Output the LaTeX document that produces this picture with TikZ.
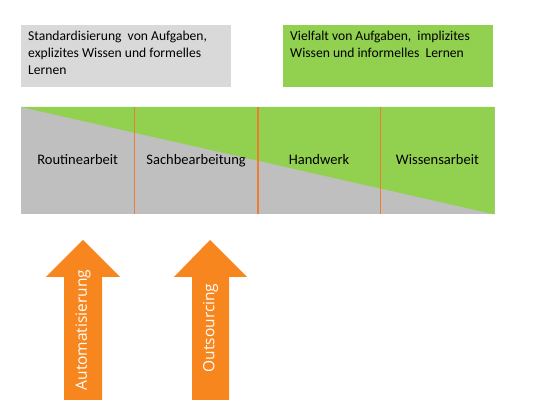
\documentclass[tikz,border=0pt]{standalone}
\usepackage{fontspec}
\setmainfont{Carlito}
\newfontfamily\arrowfont{Open Sans}
\usetikzlibrary{positioning,backgrounds}
\definecolor{leafgreen}{HTML}{92D050}
\definecolor{lightgrey}{HTML}{D9D9D9}
\definecolor{midgrey}{HTML}{BFBFBF}
\definecolor{pumpkin}{HTML}{F7861E}
\definecolor{rust}{HTML}{ED7D31}
\tikzset{
  infobox/.style  = {rectangle, inner sep=0pt, minimum width=210pt, minimum height=62pt,
                     anchor=north west, font=\fontsize{13.6}{17}\selectfont},
  colbox/.style   = {rectangle, inner sep=0pt, minimum height=107pt,
                     text height=10pt, text depth=3pt,
                     font=\fontsize{14.5}{17}\selectfont},
  divider/.style  = {draw=rust, line width=1.4pt},
  pusharrow/.style= {fill=pumpkin},
  arrowlbl/.style = {rotate=90, text=white, inner sep=0pt,
                     font=\arrowfont\fontsize{15.5}{17}\selectfont},
}
\newcommand{\boxtext}[1]{\parbox[c][56pt][t]{198pt}{\vspace*{2.5pt}\raggedright #1}}

\begin{document}
\begin{tikzpicture}[x=1pt,y=-1pt]
  \useasboundingbox (0,0) rectangle (560,419);

  % top captions
  \node[infobox, fill=lightgrey] (std) at (21,25)
    {\hspace*{2pt}\boxtext{Standardisierung~ von Aufgaben, explizites Wissen und formelles Lernen}};
  \node[infobox, fill=leafgreen] (var) at (283,25)
    {\hspace*{2pt}\boxtext{Vielfalt von Aufgaben,~ implizites Wissen und informelles~ Lernen}};

  % the four kinds of work
  \node[colbox, minimum width=113pt, anchor=north west] (routine) at (21,107) {Routinearbeit};
  \node[colbox, minimum width=123pt, right=0pt of routine] (sach) {Sachbearbeitung};
  \node[colbox, minimum width=122pt, right=0pt of sach] (hand) {Handwerk};
  \node[colbox, minimum width=114pt, right=0pt of hand] (wissen) {Wissensarbeit};

  \begin{scope}[on background layer]
    \fill[midgrey] (routine.north west) rectangle (wissen.south east);
    \fill[leafgreen] (routine.north west) -- (wissen.north east) -- (wissen.south east) -- cycle;
  \end{scope}
  \draw[divider] (routine.north east) -- (routine.south east);
  \draw[divider] (sach.north east) -- (sach.south east);
  \draw[divider] (hand.north east) -- (hand.south east);

  % pressure from below
  \fill[pusharrow] (64,400) -- (64,277) -- (46,277) -- (83,240) -- (120,277) -- (102,277) -- (102,400) -- cycle;
  \fill[pusharrow] (192,400) -- (192,277) -- (174,277) -- (210,240) -- (247,277) -- (229,277) -- (229,400) -- cycle;
  \node[arrowlbl] (auto) at (83,330) {Automatisierung};
  \node[arrowlbl] (out) at (210.5,328) {Outsourcing};
\end{tikzpicture}
\end{document}
